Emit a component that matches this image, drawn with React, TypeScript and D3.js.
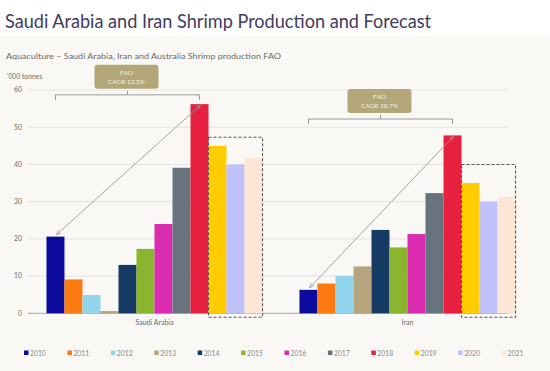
import React, { useEffect, useRef } from "react"
import * as d3 from "d3"

const WIDTH = 550
const HEIGHT = 371

const countries = ["Saudi Arabia", "Iran"]
const years = ["2010", "2011", "2012", "2013", "2014", "2015", "2016", "2017", "2018", "2019", "2020", "2021"]
const saudiValues = [20.6, 9.1, 4.9, 0.6, 13, 17.3, 24, 39.1, 56.2, 45, 40, 41.8]
const iranValues = [6.3, 8.0, 10.0, 12.6, 22.4, 17.7, 21.3, 32.3, 47.8, 35, 30, 31.3]
const yearColors = [
    "#0c0c9c", "#fb7b10", "#92d4eb", "#b6a47c", "#153a63", "#8ab52f",
    "#d92cb1", "#67737d", "#e8203f", "#ffcc00", "#c0c1fb", "#fde6d6",
]
const yTicks = [0, 10, 20, 30, 40, 50, 60]
const cagrLabels = ["CAGR 13.3%", "CAGR 28.7%"]
const forecastYears = ["2019", "2020", "2021"]
const forecastBoxTop = [47.3, 40]
const bracketLevel = [58.7, 52.2]

const App: React.FC = () => {
    const svgRef = useRef<SVGSVGElement | null>(null)

    useEffect(() => {
        if (!svgRef.current) return
        const svg = d3.select(svgRef.current)
        svg.selectAll("*").remove()

        const font = "Lato, 'Noto Sans', sans-serif"
        const valuesByCountry = [saudiValues, iranValues]

        svg.append("rect").attr("width", WIDTH).attr("height", HEIGHT).attr("fill", "#ffffff")
        svg.append("rect").attr("y", 36).attr("width", WIDTH).attr("height", HEIGHT - 36).attr("fill", "#f9f8f5")

        // 見出し
        svg.append("text")
            .attr("x", 5).attr("y", 28)
            .attr("font-family", font).attr("font-size", 19.5)
            .attr("fill", "#3f3c5e")
            .attr("textLength", 426)
            .attr("lengthAdjust", "spacingAndGlyphs")
            .text("Saudi Arabia and Iran Shrimp Production and Forecast")

        svg.append("text")
            .attr("x", 6).attr("y", 59)
            .attr("font-family", font).attr("font-size", 8.2)
            .attr("fill", "#6b6b6b")
            .attr("textLength", 275)
            .attr("lengthAdjust", "spacingAndGlyphs")
            .text("Aquaculture \u2013 Saudi Arabia, Iran and Australia Shrimp production FAO")

        svg.append("text")
            .attr("x", 7).attr("y", 79)
            .attr("font-family", font).attr("font-size", 6.8)
            .attr("fill", "#6b6b6b")
            .text("'000 tonnes")

        const y = d3.scaleLinear().domain([0, 60]).range([313.3, 90])
        const x0 = d3.scaleBand<string>()
            .domain(countries)
            .range([28, 534])
            .paddingInner(0.146)
            .paddingOuter(0.073)
        const x1 = d3.scaleBand<string>()
            .domain(years)
            .range([0, x0.bandwidth()])

        // グリッド
        const grid = svg.append("g")
        yTicks.forEach(t => {
            grid.append("line")
                .attr("x1", 28).attr("x2", 508)
                .attr("y1", y(t)).attr("y2", y(t))
                .attr("stroke", t === 0 ? "#b5b5b5" : "#e6e4e0")
                .attr("stroke-width", t === 0 ? 1.2 : 1)
            grid.append("text")
                .attr("x", 22).attr("y", y(t))
                .attr("dy", "0.35em")
                .attr("text-anchor", "end")
                .attr("font-family", font).attr("font-size", 6.8)
                .attr("fill", "#6b6b6b")
                .text(t)
        })

        // バー
        countries.forEach((c, ci) => {
            const g = svg.append("g").attr("transform", `translate(${x0(c)},0)`)
            g.selectAll("rect")
                .data(valuesByCountry[ci])
                .enter()
                .append("rect")
                .attr("x", (_, i) => x1(years[i])!)
                .attr("y", d => y(d))
                .attr("width", x1.bandwidth())
                .attr("height", d => y(0) - y(d))
                .attr("fill", (_, i) => yearColors[i])

            svg.append("text")
                .attr("x", x0(c)! + x0.bandwidth() / 2)
                .attr("y", 325)
                .attr("text-anchor", "middle")
                .attr("font-family", font).attr("font-size", 7)
                .attr("fill", "#6b6b6b")
                .text(c)

            // 予測の点線枠
            const fx0 = x0(c)! + x1(forecastYears[0])!
            const fx1 = x0(c)! + x1(forecastYears[forecastYears.length - 1])! + x1.bandwidth()
            svg.append("rect")
                .attr("x", fx0).attr("y", y(forecastBoxTop[ci]))
                .attr("width", fx1 - fx0)
                .attr("height", y(0) + 4 - y(forecastBoxTop[ci]))
                .attr("fill", "none")
                .attr("stroke", "#555")
                .attr("stroke-width", 1.1)
                .attr("stroke-dasharray", "3,2")

            // 矢印
            const vals = valuesByCountry[ci]
            const ax = x0(c)! + x1("2010")! + x1.bandwidth() / 2
            const bx = x0(c)! + x1("2018")! + x1.bandwidth() / 2
            svg.append("line")
                .attr("x1", bx + 1).attr("y1", y(vals[8]) + 1)
                .attr("x2", ax + 1).attr("y2", y(vals[0]) - 2)
                .attr("stroke", "#9a9a9a")
                .attr("stroke-width", 0.9)
                .attr("marker-start", "url(#arr)")
                .attr("marker-end", "url(#arr)")

            // ブラケット
            const by = y(bracketLevel[ci])
            const mid = (ax + bx) / 2
            svg.append("path")
                .attr("d", `M${ax},${by + 5}V${by}H${bx}V${by + 5}M${mid},${by}V${by - 4}`)
                .attr("fill", "none")
                .attr("stroke", "#9a9a9a")
                .attr("stroke-width", 1)

            const bw = 64
            const bh = 24
            const boxBottom = by - 6
            svg.append("rect")
                .attr("x", mid - bw / 2 - 1).attr("y", boxBottom - bh)
                .attr("width", bw).attr("height", bh)
                .attr("rx", 3)
                .attr("fill", "#b3a679")
            svg.append("text")
                .attr("x", mid - 1).attr("y", boxBottom - bh + 10)
                .attr("text-anchor", "middle")
                .attr("font-family", font).attr("font-size", 6.5)
                .attr("fill", "#f3efe2")
                .text("FAO")
            svg.append("text")
                .attr("x", mid - 1).attr("y", boxBottom - bh + 19)
                .attr("text-anchor", "middle")
                .attr("font-family", font).attr("font-size", 6.5)
                .attr("fill", "#f3efe2")
                .text(cagrLabels[ci])
        })

        const defs = svg.append("defs")
        defs.append("marker")
            .attr("id", "arr")
            .attr("viewBox", "0 0 10 10")
            .attr("refX", 9).attr("refY", 5)
            .attr("markerWidth", 6).attr("markerHeight", 6)
            .attr("orient", "auto-start-reverse")
            .append("path")
            .attr("d", "M0,1L9,5L0,9")
            .attr("fill", "none")
            .attr("stroke", "#9a9a9a")
            .attr("stroke-width", 1.2)

        // 凡例
        const legend = d3.scaleBand<string>().domain(years).range([24, 545])
        years.forEach((yr, i) => {
            const lx = legend(yr)!
            svg.append("rect")
                .attr("x", lx).attr("y", 350.5)
                .attr("width", 4.5).attr("height", 4.5)
                .attr("fill", yearColors[i])
            svg.append("text")
                .attr("x", lx + 6).attr("y", 355.5)
                .attr("font-family", font).attr("font-size", 6.8)
                .attr("fill", "#8a8a8a")
                .text(yr)
        })
    }, [])

    return (
        <svg
            ref={svgRef}
            width={WIDTH}
            height={HEIGHT}
            style={{ position: "absolute", left: 0, top: 0, display: "block" }}
        />
    )
}

export default App
